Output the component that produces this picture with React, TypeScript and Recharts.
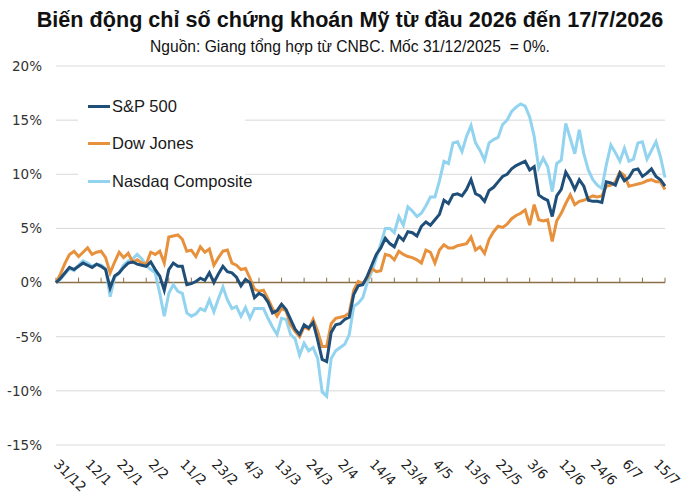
import React from 'react';
import { LineChart, Line, XAxis, YAxis, CartesianGrid, ReferenceLine, Legend } from 'recharts';

const dates = [
  '31/12',
  '2/1', '5/1', '6/1', '7/1', '8/1', '9/1', '12/1', '13/1', '14/1', '15/1', '16/1', '20/1', '21/1', '22/1', '23/1', '26/1', '27/1', '28/1', '29/1', '30/1',
  '2/2', '3/2', '4/2', '5/2', '6/2', '9/2', '10/2', '11/2', '12/2', '13/2', '17/2', '18/2', '19/2', '20/2', '23/2', '24/2', '25/2', '26/2', '27/2',
  '2/3', '3/3', '4/3', '5/3', '6/3', '9/3', '10/3', '11/3', '12/3', '13/3', '16/3', '17/3', '18/3', '19/3', '20/3', '23/3', '24/3', '25/3', '26/3', '27/3', '30/3', '31/3',
  '1/4', '2/4', '6/4', '7/4', '8/4', '9/4', '10/4', '13/4', '14/4', '15/4', '16/4', '17/4', '20/4', '21/4', '22/4', '23/4', '24/4', '27/4', '28/4', '29/4', '30/4',
  '1/5', '4/5', '5/5', '6/5', '7/5', '8/5', '11/5', '12/5', '13/5', '14/5', '15/5', '18/5', '19/5', '20/5', '21/5', '22/5', '26/5', '27/5', '28/5', '29/5',
  '1/6', '2/6', '3/6', '4/6', '5/6', '8/6', '9/6', '10/6', '11/6', '12/6', '15/6', '16/6', '17/6', '18/6', '22/6', '23/6', '24/6', '25/6', '26/6', '29/6', '30/6',
  '1/7', '2/7', '6/7', '7/7', '8/7', '9/7', '10/7', '13/7', '14/7', '15/7', '16/7', '17/7',
];

const sp500 = [
  0, 0.4, 0.9, 1.4, 1.2, 1.5, 1.8, 1.6, 1.4, 1.7, 1.5, 1.2, -0.5, 0.6, 0.9, 1.4, 1.8, 1.9, 1.7, 1.6,
  1.5, 1.9, 1.2, 0.6, -0.7, 1.2, 1.8, 1.5, 1.5, -0.2, -0.1, 0.1, 0.4, 0.2, 0.9, 0.0, 0.8, 1.5, 1.0, 0.9,
  0.5, -0.3, 0.3, 0.0, -1.4, -1.0, -1.2, -1.8, -2.8, -2.6, -2.0, -2.5, -3.4, -4.3, -4.8, -3.9, -4.2, -3.7, -5.3, -7.1,
  -7.3, -4.6, -3.9, -3.8, -3.4, -3.2, -1.1, -0.3, -0.2, 0.6, 1.6, 2.6, 3.2, 4.1, 3.6, 3.3, 4.3, 3.9, 4.7, 4.6,
  4.3, 5.2, 5.6, 5.3, 5.8, 6.3, 7.6, 7.3, 8.1, 8.2, 8.0, 8.6, 9.5, 8.2, 8.0, 7.5, 8.5, 8.8, 9.3, 9.8,
  10.0, 10.5, 10.8, 11.0, 11.2, 10.4, 10.7, 8.1, 7.8, 7.6, 6.1, 8.0, 8.6, 10.2, 9.5, 8.6, 9.5, 8.9, 7.6, 7.5,
  7.5, 7.4, 9.3, 9.2, 9.0, 10.1, 9.4, 9.7, 10.4, 10.5, 9.8, 10.1, 10.5, 9.8, 9.5, 8.9,
];

const dowJones = [
  0, 0.8, 1.8, 2.6, 2.9, 2.4, 2.8, 3.2, 2.6, 2.8, 2.9, 2.3, 0.9, 1.9, 2.8, 2.3, 2.7, 1.9, 2.1, 1.8,
  1.7, 2.8, 2.6, 2.9, 1.8, 4.2, 4.3, 4.4, 4.0, 2.9, 3.0, 2.4, 3.3, 2.8, 3.1, 1.6, 2.3, 2.9, 3.0, 1.8,
  1.6, 1.2, 1.3, 0.4, -0.6, -0.8, -0.7, -1.5, -2.4, -3.1, -2.4, -2.6, -3.9, -4.5, -5.0, -4.1, -4.3, -3.4, -4.5, -5.9,
  -5.9, -3.8, -3.3, -3.2, -3.1, -2.8, -0.7, 0.1, -0.1, 0.4, 1.3, 1.0, 1.1, 2.6, 2.5, 2.1, 2.9, 2.6, 2.4, 2.3,
  2.1, 1.8, 3.0, 2.8, 1.8, 3.0, 3.5, 3.2, 3.2, 3.4, 3.5, 3.6, 4.2, 3.0, 3.3, 2.7, 4.0, 4.7, 5.2, 5.1,
  5.4, 5.9, 6.2, 6.4, 6.7, 5.3, 7.2, 5.8, 5.7, 5.8, 3.8, 5.7, 6.4, 7.3, 8.1, 7.2, 7.5, 7.6, 7.8, 8.0,
  7.9, 8.0, 8.9, 9.0, 9.3, 10.2, 9.9, 8.9, 9.0, 9.1, 9.2, 9.4, 9.5, 9.3, 9.3, 8.6,
];

const nasdaq = [
  0, 0.3, 0.8, 1.3, 1.1, 1.6, 2.0, 1.8, 1.5, 1.7, 1.6, 1.3, -1.3, 0.5, 0.9, 1.6, 2.0, 2.2, 2.6, 2.2,
  1.6, 1.2, 0.9, -1.0, -3.1, -1.0, -0.2, -0.8, -1.0, -2.8, -3.1, -2.9, -2.4, -2.6, -1.6, -2.7, -1.5, -0.4, -1.6, -2.4,
  -2.2, -3.1, -2.3, -3.3, -2.4, -2.4, -2.4, -3.3, -4.1, -4.8, -3.3, -3.4, -4.8, -5.2, -6.7, -5.6, -6.3, -6.0, -7.0, -10.1,
  -10.5, -7.0, -6.3, -6.0, -5.7, -4.8, -2.2, -1.9, -1.4, 0.0, 1.0, 2.3, 3.6, 5.0, 5.0, 4.6, 6.1, 5.3, 7.0, 6.6,
  6.1, 6.4, 7.1, 7.9, 7.9, 9.4, 11.2, 11.0, 12.9, 13.0, 12.1, 13.5, 14.5, 12.9, 12.2, 11.3, 12.9, 13.2, 13.4, 14.6,
  15.0, 15.8, 16.2, 16.5, 16.3, 15.3, 13.5, 10.6, 11.5, 10.7, 8.4, 11.0, 11.3, 14.7, 13.3, 11.9, 14.1, 11.9, 10.4, 9.5,
  9.0, 8.7, 10.9, 12.7, 12.0, 11.2, 12.4, 11.2, 11.4, 12.9, 13.0, 11.4, 12.2, 13.0, 11.6, 9.7,
];

const yTicks = [-15, -10, -5, 0, 5, 10, 15, 20];

const seriesInfo = [
  { key: 'sp', name: 'S&P 500', color: '#1F4E79' },
  { key: 'dj', name: 'Dow Jones', color: '#E8913C' },
  { key: 'nq', name: 'Nasdaq Composite', color: '#92D3EF' },
];

const data = dates.map((d, i) => ({ date: d, sp: sp500[i], dj: dowJones[i], nq: nasdaq[i] }));
const axisTickDates = dates.filter((_, i) => i % 5 === 0);

const XTick = (props: any) => {
  const { x, y, payload } = props;
  return (
    <g transform={`translate(${x - 3},${y + 12})`}>
      <text transform="rotate(45)" x={0} y={0} textAnchor="start" fontSize={13.5} fontFamily="DejaVu Sans" fill="#222">
        {payload.value}
      </text>
    </g>
  );
};

const LegendContent = () => (
  <div style={{ background: '#fff', width: 167, height: 112 }}>
    {seriesInfo.map((s) => (
      <div key={s.key} style={{ display: 'flex', alignItems: 'center', height: 37.3, whiteSpace: 'nowrap' }}>
        <div style={{ width: 10, flexShrink: 0 }} />
        <div style={{ width: 22, height: 3, background: s.color, flexShrink: 0 }} />
        <div style={{ marginLeft: 2, fontFamily: '"Liberation Sans", Arial, sans-serif', fontSize: 16.5, color: '#1a1a1a', whiteSpace: 'nowrap' }}>{s.name}</div>
      </div>
    ))}
  </div>
);

export default function App() {
  return (
    <div style={{ position: 'absolute', left: 0, top: 0, width: 700, height: 503, background: '#fff' }}>
      <div style={{ position: 'absolute', left: 0, top: 7, width: 700, textAlign: 'center', fontFamily: '"Liberation Sans", Arial, sans-serif', fontWeight: 'bold', fontSize: 21.6, lineHeight: '26px', color: '#111', whiteSpace: 'nowrap' }}>
        Biến động chỉ số chứng khoán Mỹ từ đầu 2026 đến 17/7/2026
      </div>
      <div style={{ position: 'absolute', left: 0, top: 38, width: 700, textAlign: 'center', fontFamily: '"Liberation Sans", Arial, sans-serif', fontSize: 15.6, lineHeight: '18px', color: '#111', whiteSpace: 'pre' }}>
        Nguồn: Giang tổng hợp từ CNBC. Mốc 31/12/2025  = 0%.
      </div>
      <div style={{ position: 'absolute', left: 0, top: 0 }}>
        <LineChart width={700} height={503} data={data} margin={{ top: 66, right: 35, left: 0, bottom: 8 }}>
          <CartesianGrid vertical={false} stroke="#d9d9d9" strokeWidth={1} />
          <XAxis dataKey="date" interval={6} axisLine={false} tickLine={false} height={50} tick={<XTick />} />
          <YAxis
            domain={[-15, 20]}
            ticks={yTicks}
            width={56}
            axisLine={false}
            tickLine={false}
            tickMargin={8}
            tickFormatter={(v: number) => `${v}%`}
            tick={{ fontSize: 13.5, fontFamily: 'DejaVu Sans', fill: '#333' }}
          />
          <ReferenceLine y={0} stroke="#8B6F47" strokeWidth={1.5} />
          {axisTickDates.map((d) => (
            <ReferenceLine key={d} segment={[{ x: d, y: 0 }, { x: d, y: 0.45 }]} stroke="#8B6F47" strokeWidth={1} />
          ))}
          <Line type="linear" dataKey="nq" name="Nasdaq Composite" stroke="#92D3EF" strokeWidth={3} dot={false} isAnimationActive={false} />
          <Line type="linear" dataKey="dj" name="Dow Jones" stroke="#E8913C" strokeWidth={3} dot={false} isAnimationActive={false} />
          <Line type="linear" dataKey="sp" name="S&P 500" stroke="#1F4E79" strokeWidth={3} dot={false} isAnimationActive={false} />
          <Legend
            layout="vertical"
            align="center"
            verticalAlign="middle"
            content={<LegendContent />}
            wrapperStyle={{ left: 78, top: 88, width: 167, height: 112 }}
          />
        </LineChart>
      </div>
    </div>
  );
}
